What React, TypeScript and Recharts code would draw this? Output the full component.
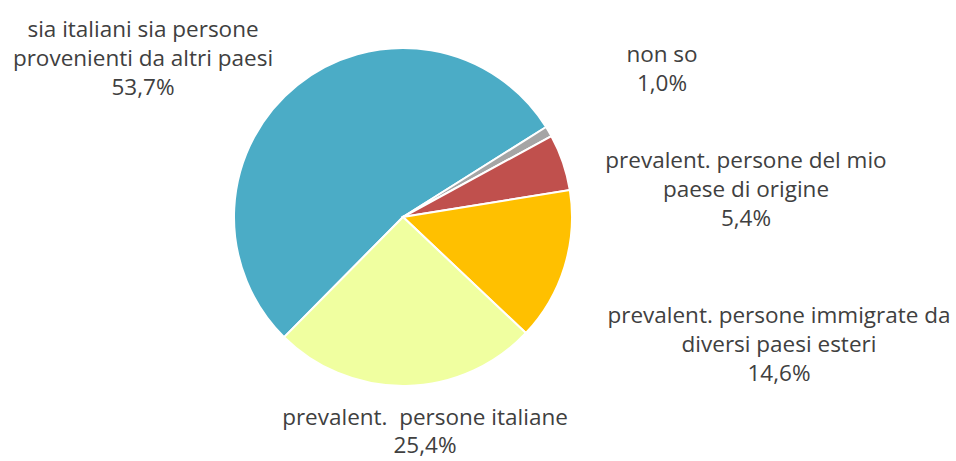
import { PieChart, Pie, Cell } from "recharts";

const categories = [
  "sia italiani sia persone provenienti da altri paesi",
  "non so",
  "prevalent. persone del mio paese di origine",
  "prevalent. persone immigrate da diversi paesi esteri",
  "prevalent.  persone italiane",
];
const values = [53.7, 1.0, 5.4, 14.6, 25.4];
const labelLines = [
  ["sia italiani sia persone", "provenienti da altri paesi"],
  ["non so"],
  ["prevalent. persone del mio", "paese di origine"],
  ["prevalent. persone immigrate da", "diversi paesi esteri"],
  ["prevalent.  persone italiane"],
];
const colors = ["#4BACC6", "#A5A5A5", "#C0504D", "#FFC000", "#F0FFA0"];

const data = categories.map((name, i) => ({ name, value: values[i] }));

// first-line baseline of each label, relative to the pie centre (placed by hand like the original)
const labelOffset = [
  { dx: -260, dy: -180 },
  { dx: 259, dy: -155 },
  { dx: 343, dy: -49 },
  { dx: 376, dy: 106 },
  { dx: 22, dy: 208 },
];

const fmt = (v: number) => v.toFixed(1).replace(".", ",") + "%";

function SliceLabel(props: any) {
  const { cx, cy, index } = props;
  const lines = [...labelLines[index], fmt(values[index])];
  const off = labelOffset[index];
  return (
    <text
      x={cx + off.dx}
      y={cy + off.dy}
      textAnchor="middle"
      fill="#404040"
      fontSize={22.5}
      fontFamily="'Open Sans', sans-serif"
    >
      {lines.map((l, i) => (
        <tspan key={i} x={cx + off.dx} dy={i === 0 ? 0 : index === 4 ? 28 : 29} style={{ whiteSpace: "pre" }}>
          {l}
        </tspan>
      ))}
    </text>
  );
}

export default function App() {
  return (
    <div style={{ width: 956, height: 461, background: "#fff" }}>
      <style>{`body{margin:0}`}</style>
      <PieChart width={956} height={461} margin={{ top: 0, right: 0, bottom: 0, left: 0 }}>
        <Pie
          data={data}
          dataKey="value"
          nameKey="name"
          cx={403}
          cy={217}
          outerRadius={169}
          startAngle={-134.7}
          endAngle={-494.7}
          stroke="#fff"
          strokeWidth={2}
          label={SliceLabel}
          labelLine={false}
          isAnimationActive={false}
        >
          {data.map((d, i) => (
            <Cell key={d.name} fill={colors[i]} />
          ))}
        </Pie>
      </PieChart>
    </div>
  );
}
